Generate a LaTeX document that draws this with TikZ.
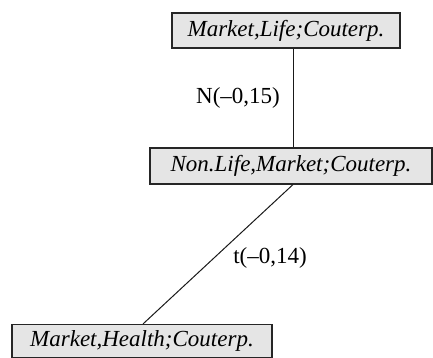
\documentclass[tikz,border=0pt]{standalone}
\usepackage{fontspec}
\setmainfont{Liberation Serif}
\begin{document}
\begin{tikzpicture}[x=1pt,y=-1pt,
  box/.style={draw=black!85, line width=1.1pt, fill=black!10, inner sep=0pt,
    font=\fontsize{23}{26}\selectfont\itshape, anchor=center},
  link/.style={draw=black!90, line width=1pt},
  lbl/.style={font=\fontsize{23}{26}\selectfont, inner sep=0pt, anchor=center}]
  \useasboundingbox (0,0) rectangle (433,358);
  % the three state boxes
  \node[box, minimum width=228pt, minimum height=35pt] (top) at (286,30.5) {Market,Life;Couterp.};
  \node[box, minimum width=282pt, minimum height=36pt] (mid) at (291,166) {Non.Life,Market;Couterp.};
  \node[box, minimum width=260pt, minimum height=33pt] (bot) at (142,341) {Market,Health;Couterp.};
  % connectors
  \draw[link] ([xshift=7pt]top.south) -- ([xshift=7pt]top.south |- mid.north);
  \draw[link] ([xshift=2pt]mid.south) -- ([xshift=1pt]bot.north);
  % connector labels
  \node[lbl] (lN) at (238,98) {N(–0,15)};
  \node[lbl] (lt) at (270,258) {t(–0,14)};
\end{tikzpicture}
\end{document}
